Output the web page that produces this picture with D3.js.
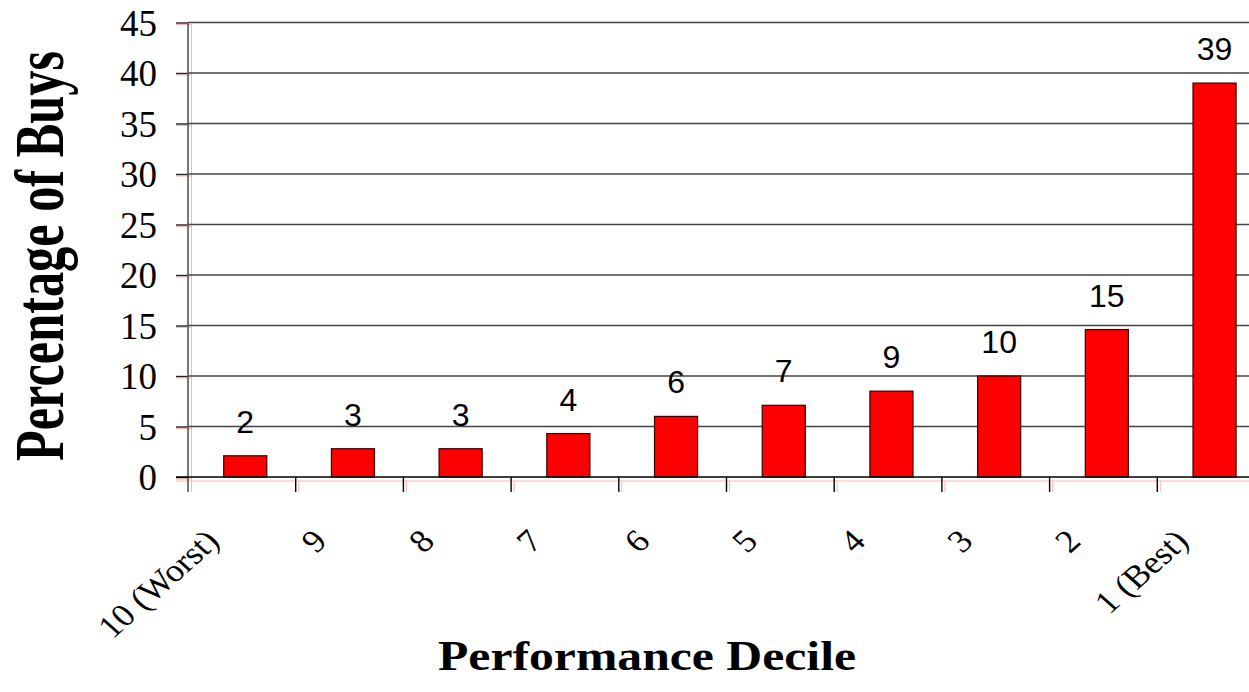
<!DOCTYPE html>
<html>
<head>
<meta charset="utf-8">
<script src="https://cdn.jsdelivr.net/npm/d3@7"></script>
<style>
  html, body { margin: 0; padding: 0; background: #fff; }
  svg { display: block; }
</style>
</head>
<body>
<script>
// ---- data ----
const categories = ["10 (Worst)", "9", "8", "7", "6", "5", "4", "3", "2", "1 (Best)"];
const values = [2.1, 2.8, 2.8, 4.3, 6.0, 7.1, 8.5, 10.0, 14.6, 39.0];
const valueLabels = ["2", "3", "3", "4", "6", "7", "9", "10", "15", "39"];
const yTicks = [0, 5, 10, 15, 20, 25, 30, 35, 40, 45];
const xTitle = "Performance Decile";
const yTitle = "Percentage of Buys";

(function () {
// ---- layout ----
const W = 1249, H = 692;
const pLeft = 188, pTop = 22.5, pBottom = 477, pRight = 1265;

const svg = d3.select("body").append("svg").attr("width", W).attr("height", H);

const x = d3.scaleBand().domain(categories).range([pLeft, pRight]).padding(0);
const y = d3.scaleLinear().domain([0, 45]).range([pBottom, pTop]);

const serif = "'Liberation Serif', 'Times New Roman', serif";
const sans = "'Liberation Sans', Arial, sans-serif";
const pink = "#ffb4b4";

// pink shadow lines
const g0 = svg.append("g");
g0.selectAll("line.ps").data(yTicks).join("line")
  .attr("x1", pLeft - 12).attr("x2", pLeft + 3.5)
  .attr("y1", d => y(d) + 2).attr("y2", d => y(d) + 2)
  .attr("stroke", pink).attr("stroke-width", 1);
g0.append("line").attr("x1", pLeft + 3.5).attr("x2", pLeft + 3.5)
  .attr("y1", pTop + 2).attr("y2", pBottom + 15)
  .attr("stroke", pink).attr("stroke-width", 1);
g0.append("line").attr("x1", pLeft - 12).attr("x2", W)
  .attr("y1", pBottom + 4).attr("y2", pBottom + 4)
  .attr("stroke", pink).attr("stroke-width", 1);
g0.selectAll("line.pt").data(categories.slice(1)).join("line")
  .attr("x1", d => x(d) + 3).attr("x2", d => x(d) + 3)
  .attr("y1", pBottom + 4).attr("y2", pBottom + 15)
  .attr("stroke", pink).attr("stroke-width", 1);

// gridlines
svg.append("g").selectAll("line").data(yTicks.filter(d => d > 0)).join("line")
  .attr("x1", pLeft).attr("x2", W)
  .attr("y1", d => y(d)).attr("y2", d => y(d))
  .attr("stroke", "#444").attr("stroke-width", 1.4);

// y axis
const yAxis = svg.append("g").attr("transform", `translate(${pLeft},0)`)
  .call(d3.axisLeft(y).tickValues(yTicks).tickSize(12).tickPadding(19).tickFormat(d3.format("d")));
yAxis.select(".domain").remove();
yAxis.selectAll(".tick line").attr("stroke", "#222").attr("stroke-width", 1.4);
yAxis.selectAll(".tick text").attr("font-family", serif).attr("font-size", 37)
  .attr("fill", "#000").attr("dy", "0.34em");
svg.append("line").attr("x1", pLeft).attr("x2", pLeft).attr("y1", pTop).attr("y2", pBottom + 15)
  .attr("stroke", "#555").attr("stroke-width", 1.6);

// bars
const bw = x.bandwidth() * 0.4;
svg.append("g").selectAll("rect").data(values).join("rect")
  .attr("x", (d, i) => x(categories[i]) + (x.bandwidth() - bw) / 2 + 3.4)
  .attr("y", d => y(d))
  .attr("width", bw)
  .attr("height", d => y(0) - y(d))
  .attr("fill", "#ff0000").attr("stroke", "#3a0000").attr("stroke-width", 1.2);

// x axis line + ticks
svg.append("line").attr("x1", pLeft - 12).attr("x2", W).attr("y1", pBottom).attr("y2", pBottom)
  .attr("stroke", "#000").attr("stroke-width", 1.4);
svg.append("g").selectAll("line").data(categories.slice(1)).join("line")
  .attr("x1", d => x(d)).attr("x2", d => x(d))
  .attr("y1", pBottom).attr("y2", pBottom + 15)
  .attr("stroke", "#000").attr("stroke-width", 1.4);

// value labels
svg.append("g").selectAll("text").data(values).join("text")
  .attr("x", (d, i) => x(categories[i]) + x.bandwidth() / 2 + 3.4)
  .attr("y", d => y(d) - 23)
  .attr("text-anchor", "middle")
  .attr("font-family", sans).attr("font-size", 32).attr("fill", "#000")
  .text((d, i) => valueLabels[i]);

// category labels (rotated, slightly stretched horizontally like the source)
svg.append("g").selectAll("text").data(categories).join("text")
  .attr("transform", d => `translate(${x(d) + x.bandwidth() / 2 - 21},543) scale(1.12,1) rotate(-45)`)
  .attr("text-anchor", "end")
  .attr("font-family", serif).attr("font-size", 32).attr("fill", "#000")
  .text(d => d);

// titles
svg.append("text")
  .attr("x", 647).attr("y", 670)
  .attr("text-anchor", "middle")
  .attr("font-family", serif).attr("font-weight", "bold").attr("font-size", 42)
  .attr("textLength", 418).attr("lengthAdjust", "spacingAndGlyphs")
  .text(xTitle);

svg.append("text")
  .attr("transform", "translate(63,256) scale(1.4,1) rotate(-90)")
  .attr("text-anchor", "middle")
  .attr("font-family", serif).attr("font-weight", "bold").attr("font-size", 50)
  .attr("textLength", 410).attr("lengthAdjust", "spacingAndGlyphs")
  .text(yTitle);
})();
</script>
</body>
</html>
